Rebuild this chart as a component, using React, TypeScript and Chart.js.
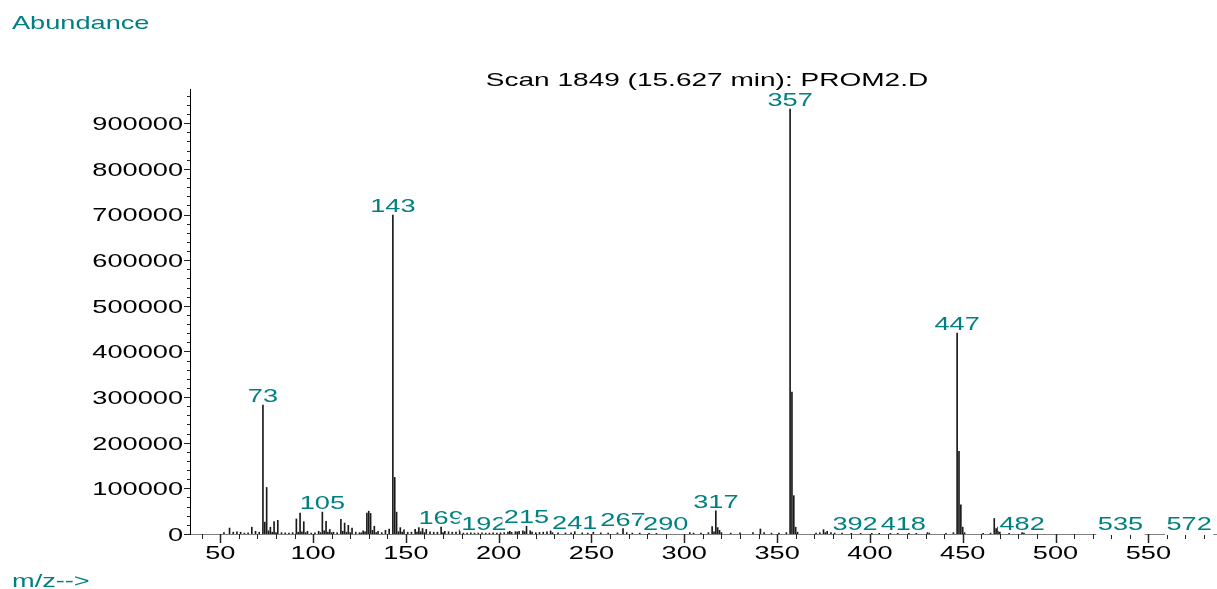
import React, { useEffect, useRef } from "react";
import { Chart, registerables } from "chart.js";

Chart.register(...registerables);

// ---- data ----
const mzValues = [
  52, 55, 57, 59, 61, 63, 65, 67, 69, 71, 73, 74, 75, 76, 77, 78, 79, 80, 81, 83, 85, 87, 89,
  91, 92, 93, 94, 95, 96, 97, 99, 101, 103, 104, 105, 106, 107, 108, 109, 110, 111, 113, 115,
  116, 117, 118, 119, 120, 121, 123, 125, 126, 127, 128, 129, 130, 131, 132, 133, 134, 135,
  137, 139, 141, 143, 144, 145, 146, 147, 148, 149, 151, 153, 155, 156, 157, 158, 159, 160,
  161, 163, 165, 167, 169, 170, 171, 173, 175, 177, 179, 181, 183, 185, 187, 189, 191, 193,
  195, 197, 199, 201, 203, 205, 206, 207, 209, 210, 211, 213, 214, 215, 217, 218, 220, 222,
  224, 226, 228, 229, 232, 236, 239, 241, 245, 248, 251, 255, 259, 264, 267, 269, 272, 276,
  281, 285, 303, 305, 309, 313, 315, 316, 317, 318, 319, 320, 325, 330, 337, 341, 343, 347,
  351, 355, 357, 358, 359, 360, 361, 371, 373, 375, 376, 377, 379, 381, 385, 390, 395, 401,
  405, 411, 415, 421, 425, 431, 432, 441, 445, 447, 448, 449, 450, 451, 461, 465, 467, 468,
  469, 470, 475, 482, 483,
];
const abundances = [
  3000, 13000, 4000, 5000, 4000, 2000, 2500, 15000, 6000, 4000, 282600, 26000, 102000, 7000,
  15000, 4000, 27000, 3000, 30000, 3000, 2500, 2000, 3000, 33000, 4000, 46000, 5000, 27000,
  3000, 6000, 2000, 2500, 6000, 3000, 48000, 7000, 28000, 4000, 10000, 3000, 4000, 3000,
  32000, 6000, 24000, 4000, 19000, 3000, 13000, 4000, 3000, 2500, 7000, 5000, 46000, 50000,
  45000, 8000, 17000, 3000, 6000, 3000, 8000, 11000, 699000, 124000, 48000, 5000, 14000,
  4000, 9000, 4000, 4000, 10000, 4000, 14000, 5000, 12000, 3000, 10000, 5000, 4000, 4000,
  15000, 3000, 6000, 5000, 4000, 4000, 9000, 2000, 2000, 2500, 2000, 2000, 2500, 2000, 2000,
  2500, 2000, 2500, 3000, 4000, 6000, 3500, 5000, 4500, 6000, 7000, 5000, 17000, 7000, 4000,
  3000, 3500, 4000, 5000, 7000, 3000, 2500, 2500, 2500, 5000, 2500, 2000, 4000, 2500, 2000,
  2500, 12000, 3000, 2000, 2000, 1500, 1500, 3000, 2000, 2000, 3000, 16000, 5000, 51000,
  14000, 8000, 3000, 2000, 2500, 3000, 11000, 3000, 2000, 2000, 3000, 931000, 311000, 84000,
  15000, 4000, 2000, 3000, 9500, 3000, 6000, 3000, 2000, 2000, 1500, 1500, 1500, 1500, 1500,
  1500, 1500, 1500, 3000, 2000, 1500, 3000, 440400, 181000, 64000, 15000, 3000, 1500, 2000,
  34000, 12000, 15000, 4000, 1500, 3000, 2000,
];
const labeledMz = [73, 105, 143, 169, 192, 215, 241, 267, 290, 317, 357, 392, 418, 447, 482, 535, 572];
const xTickLabels = [50, 100, 150, 200, 250, 300, 350, 400, 450, 500, 550];
const yTickLabels = [0, 100000, 200000, 300000, 400000, 500000, 600000, 700000, 800000, 900000];
const titleText = "Scan 1849 (15.627 min): PROM2.D";
const yAxisName = "Abundance";
const xAxisName = "m/z-->";

const X_MIN = 33.7;
const X_MAX = 587;
const Y_MAX = 975000;

const FONT = '19px "Liberation Sans", Arial, Helvetica, sans-serif';
const SX = 1.43;
const TEAL = "#008080";

function drawText(
  ctx: CanvasRenderingContext2D,
  text: string,
  x: number,
  y: number,
  align: CanvasTextAlign,
  color: string,
  sx: number = SX
) {
  ctx.save();
  ctx.translate(x, y);
  ctx.scale(sx, 1);
  ctx.font = FONT;
  ctx.textAlign = align;
  ctx.textBaseline = "alphabetic";
  ctx.fillStyle = color;
  ctx.fillText(text, 0, 0);
  ctx.restore();
}

const decorPlugin = {
  id: "decor",
  afterDraw(chart: any) {
    const { ctx, chartArea } = chart;
    const x = chart.scales.x;
    const y = chart.scales.y;
    const base = chartArea.bottom;
    const left = chartArea.left;
    const lastMz = Math.max(...mzValues);
    ctx.save();
    // x ticks
    ctx.strokeStyle = "#222";
    for (let v = 40; v <= 580; v += 10) {
      const major = v % 50 === 0;
      const px = Math.round(x.getPixelForValue(v)) + 0.5;
      ctx.lineWidth = major ? 1.5 : 1;
      ctx.beginPath();
      ctx.moveTo(px, base);
      ctx.lineTo(px, base + (major ? 9 : 5));
      ctx.stroke();
    }
    // y ticks
    ctx.lineWidth = 1;
    for (let v = 0; v <= 960000; v += 20000) {
      const major = v % 100000 === 0;
      const py = Math.round(y.getPixelForValue(v)) + 0.5;
      ctx.beginPath();
      ctx.moveTo(left - (major ? 6 : 3), py);
      ctx.lineTo(left, py);
      ctx.stroke();
    }
    ctx.restore();

    // tick labels
    yTickLabels.forEach((v) => {
      drawText(ctx, String(v), left - 7, y.getPixelForValue(v) + 6.8, "right", "#000");
    });
    xTickLabels.forEach((v) => {
      drawText(ctx, String(v), x.getPixelForValue(v), base + 24.6, "center", "#000");
    });

    // peak labels
    ctx.save();
    ctx.font = FONT;
    labeledMz.forEach((m) => {
      const idx = mzValues.indexOf(m);
      const val = idx >= 0 ? abundances[idx] : 0;
      const px = x.getPixelForValue(m);
      const py = y.getPixelForValue(val);
      const by = Math.min(py - 3, base - 4.5);
      const w = ctx.measureText(String(m)).width * SX;
      const bottom = m > lastMz ? base + 1 : by + 1.7;
      ctx.fillStyle = "#fff";
      ctx.fillRect(px - w / 2 - 1.5, by - 14.8, w + 3, bottom - (by - 14.8));
      drawText(ctx, String(m), px, by, "center", TEAL);
    });
    ctx.restore();

    // titles
    drawText(ctx, titleText, 707, 86, "center", "#000", 1.475);
    drawText(ctx, yAxisName, 12, 29.3, "left", TEAL);
    drawText(ctx, xAxisName, 12, 587, "left", TEAL);
  },
};

export default function App() {
  const ref = useRef<HTMLCanvasElement | null>(null);
  useEffect(() => {
    if (!ref.current) return;
    const chart = new Chart(ref.current, {
      type: "bar",
      data: {
        datasets: [
          {
            data: mzValues.map((m, i) => ({ x: m, y: abundances[i] })),
            backgroundColor: "#1a1a1a",
            borderWidth: 0,
            barThickness: 1,
            grouped: false,
          } as any,
        ],
      },
      options: {
        responsive: false,
        animation: false,
        events: [],
        layout: { padding: { left: 190, right: 0, top: 89, bottom: 55 } },
        plugins: {
          legend: { display: false },
          tooltip: { enabled: false },
          title: { display: false },
        },
        scales: {
          x: {
            type: "linear",
            min: X_MIN,
            max: X_MAX,
            offset: false,
            grid: { display: false, drawTicks: false },
            border: { display: true, color: "#808080", width: 1 },
            ticks: { display: false },
          },
          y: {
            type: "linear",
            min: 0,
            max: Y_MAX,
            grid: { display: false, drawTicks: false },
            border: { display: true, color: "#000", width: 1 },
            ticks: { display: false },
          },
        },
      } as any,
      plugins: [decorPlugin],
    });
    return () => chart.destroy();
  }, []);
  return (
    <div style={{ position: "absolute", left: 0, top: 0, width: 1217, height: 589, background: "#fff" }}>
      <canvas ref={ref} width={1217} height={589} style={{ display: "block", width: 1217, height: 589 }} />
    </div>
  );
}
